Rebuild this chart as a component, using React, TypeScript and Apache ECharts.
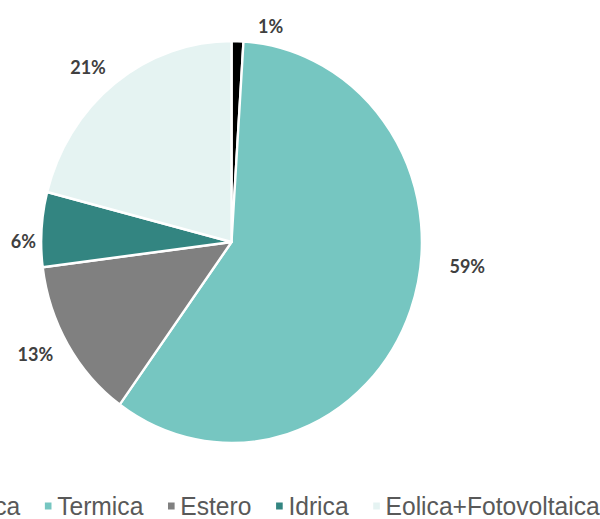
import React, { useEffect, useRef } from 'react';
import * as echarts from 'echarts';

const categories = ['Geotermica', 'Termica', 'Estero', 'Idrica', 'Eolica+Fotovoltaica'];
const values = [1, 59, 13, 6, 21];
const colors = ['#000000', '#76C6C1', '#808080', '#338581', '#E5F3F2'];
// small per-label offsets (px) to mimic the original label placement
const labelNudge: [number, number][] = [[34, 8], [28, -52], [-5, -2], [9, 12.5], [-7.6, 1.5]];

const SCALE_X = 0.947;
const W = 600 / SCALE_X;
const H = 519;
const CX = 244.5;
const CY = 242;
const R = 201;
const LABEL_GAP = 15;

export default function App() {
  const ref = useRef<HTMLDivElement>(null);
  useEffect(() => {
    const chart = echarts.init(ref.current!, null, { renderer: 'svg' });
    const total = values.reduce((a, b) => a + b, 0);
    const mids: number[] = [];
    let acc = 0;
    values.forEach((v) => {
      mids.push(((acc + v / 2) / total) * 2 * Math.PI);
      acc += v;
    });
    chart.setOption({
      animation: false,
      color: colors,
      legend: {
        left: -133,
        top: 488,
        width: 1100,
        orient: 'horizontal',
        icon: 'rect',
        itemWidth: 9,
        itemHeight: 9,
        itemGap: 24,
        selectedMode: false,
        textStyle: { fontFamily: 'Liberation Sans', fontSize: 26, color: '#595959' },
        data: categories,
      },
      series: [
        {
          type: 'pie',
          center: [CX, CY],
          radius: [0, R],
          startAngle: 90,
          clockwise: true,
          avoidLabelOverlap: false,
          emphasis: { disabled: true },
          itemStyle: { borderColor: '#ffffff', borderWidth: 2.5 },
          label: {
            show: true,
            position: 'outside',
            overflow: 'none',
            alignTo: 'none',
            formatter: (p: any) => Math.round(p.percent) + '%',
            fontFamily: 'Lato',
            fontWeight: 'bold',
            fontSize: 19,
            color: '#404040',
          },
          labelLine: { show: false },
          labelLayout: (p: any) => {
            const i = p.dataIndex;
            const a = mids[i];
            const dx = Math.sin(a);
            const dy = -Math.cos(a);
            const hw = p.labelRect.width / 2;
            const hh = 8;
            const d = R + LABEL_GAP;
            return {
              x: CX + d * dx + dx * hw + labelNudge[i][0],
              y: CY + d * dy + dy * hh + labelNudge[i][1],
              align: 'center',
              verticalAlign: 'middle',
            };
          },
          data: categories.map((name, i) => ({ name, value: values[i] })),
        },
      ],
    });
    return () => chart.dispose();
  }, []);
  return (
    <div style={{ position: 'fixed', left: 0, top: 0, width: 600, height: 519, overflow: 'hidden', background: '#fff' }}>
      <div ref={ref} style={{ width: W, height: H, transform: `scaleX(${SCALE_X})`, transformOrigin: '0 0' }} />
    </div>
  );
}
